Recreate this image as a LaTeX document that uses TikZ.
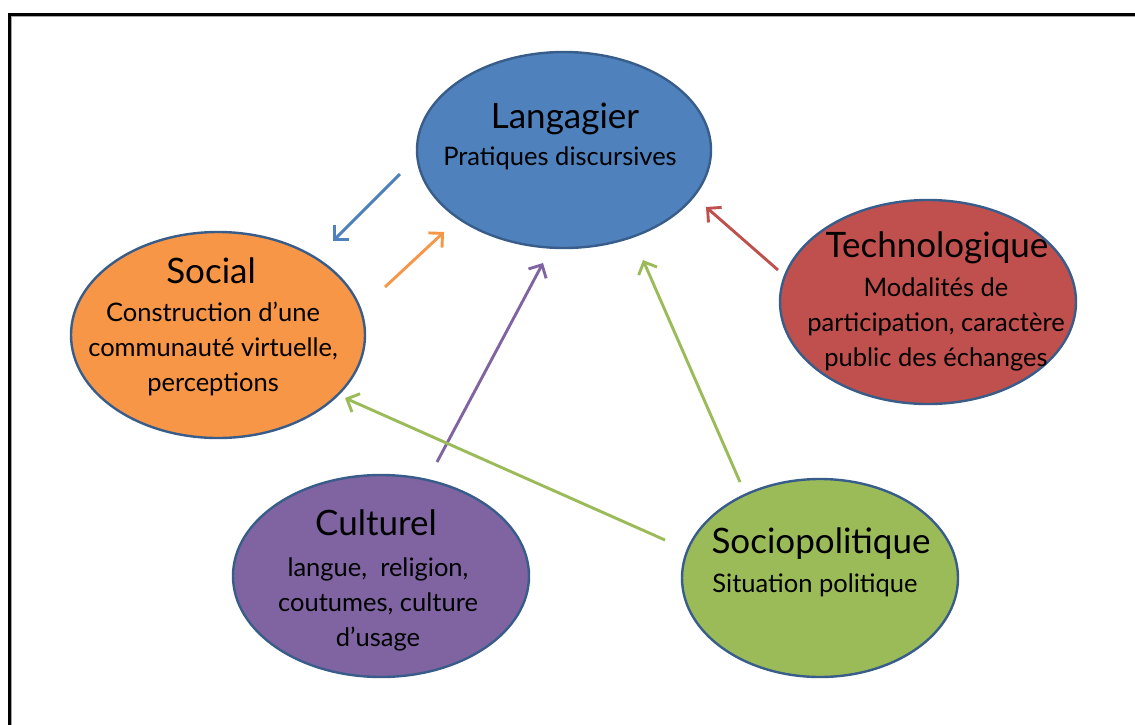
\documentclass[tikz,border=0pt]{standalone}
\usepackage{fontspec}
\setmainfont{Lato}
\usetikzlibrary{
  arrows.meta,
  shapes.geometric
}
\definecolor{bleuL}{RGB}{79, 129, 189}
\definecolor{rougeT}{RGB}{192, 80, 77}
\definecolor{orangeS}{RGB}{247, 150, 70}
\definecolor{violetC}{RGB}{128, 100, 162}
\definecolor{vertP}{RGB}{155, 187, 89}
\definecolor{bordclr}{RGB}{56, 93, 138}
\tikzset{
  % Ellipses
  bulle/.style   = {ellipse, draw=bordclr, line width=2.4pt, inner sep=0pt},
  % Textes
  titre/.style   = {font=\fontsize{35}{40}\selectfont, anchor=base, inner sep=0pt},
  soustitre/.style = {font=\fontsize{25.5}{35}\selectfont, align=center, anchor=base, inner sep=0pt},
  % Fleches
  fleche/.style  = {line width=2.9pt, -{Straight Barb[length=10pt,width=20pt]}},
}
\begin{document}
\begin{tikzpicture}[x=1pt, y=-1pt]
  \useasboundingbox (0,0) rectangle (1135,724);
  \clip (0,0) rectangle (1135,724);
  % Cadre
  \draw[line width=3pt] (9,760) -- (9,14) -- (1160,14);
  \draw[black!35, line width=1.2pt] (11.8,760) -- (11.8,16.8) -- (1160,16.8);
  % Ellipses
  \node[bulle, fill=bleuL, minimum width=294pt, minimum height=196pt] (lang) at (564,150) {};
  \node[bulle, fill=rougeT, minimum width=296pt, minimum height=204pt] (tech) at (928,302) {};
  \node[bulle, fill=orangeS, minimum width=294pt, minimum height=206pt] (soc) at (218,335) {};
  \node[bulle, fill=violetC, minimum width=296pt, minimum height=202pt] (cult) at (381,576) {};
  \node[bulle, fill=vertP, minimum width=276pt, minimum height=198pt] (socp) at (820,578) {};
  % Textes (base = ligne du bas)
  \node[titre] (langT) at (565,128) {Langagier};
  \node[soustitre] (langS) at (560,165) {Pratiques discursives};
  \node[titre] (socT) at (211,283) {Social};
  \node[soustitre] (socS) at (213,391) {Construction d’une\\communauté virtuelle,\\perceptions};
  \node[titre] (techT) at (937,257) {Technologique};
  \node[soustitre] (techS) at (936,366) {Modalités de\\participation, caractère\\public des échanges};
  \node[titre] (cultT) at (376,535) {Culturel};
  \node[soustitre] (cultS) at (378,646) {langue,\ \ religion,\\coutumes, culture\\d’usage};
  \node[titre] (socpT) at (821,553) {Sociopolitique};
  \node[soustitre] (socpS) at (815,592) {Situation politique};
  % Extremites des fleches
  \coordinate (langDep) at (400,174);
  \coordinate (socArr) at (333,241);
  \coordinate (socDep) at (385,287);
  \coordinate (langArrA) at (444,232);
  \coordinate (cultDep) at (437,462);
  \coordinate (langArrB) at (543,263);
  \coordinate (socpDepA) at (740,482);
  \coordinate (langArrC) at (643,260);
  \coordinate (socpDepB) at (665,540);
  \coordinate (socArrB) at (345,398);
  \coordinate (techDep) at (778,270);
  \coordinate (langArrD) at (706,207);
  % Fleches
  \draw[fleche, bleuL] (langDep) -- (socArr);
  \draw[fleche, orangeS] (socDep) -- (langArrA);
  \draw[fleche, violetC] (cultDep) -- (langArrB);
  \draw[fleche, vertP] (socpDepA) -- (langArrC);
  \draw[fleche, vertP] (socpDepB) -- (socArrB);
  \draw[fleche, rougeT] (techDep) -- (langArrD);
\end{tikzpicture}
\end{document}
